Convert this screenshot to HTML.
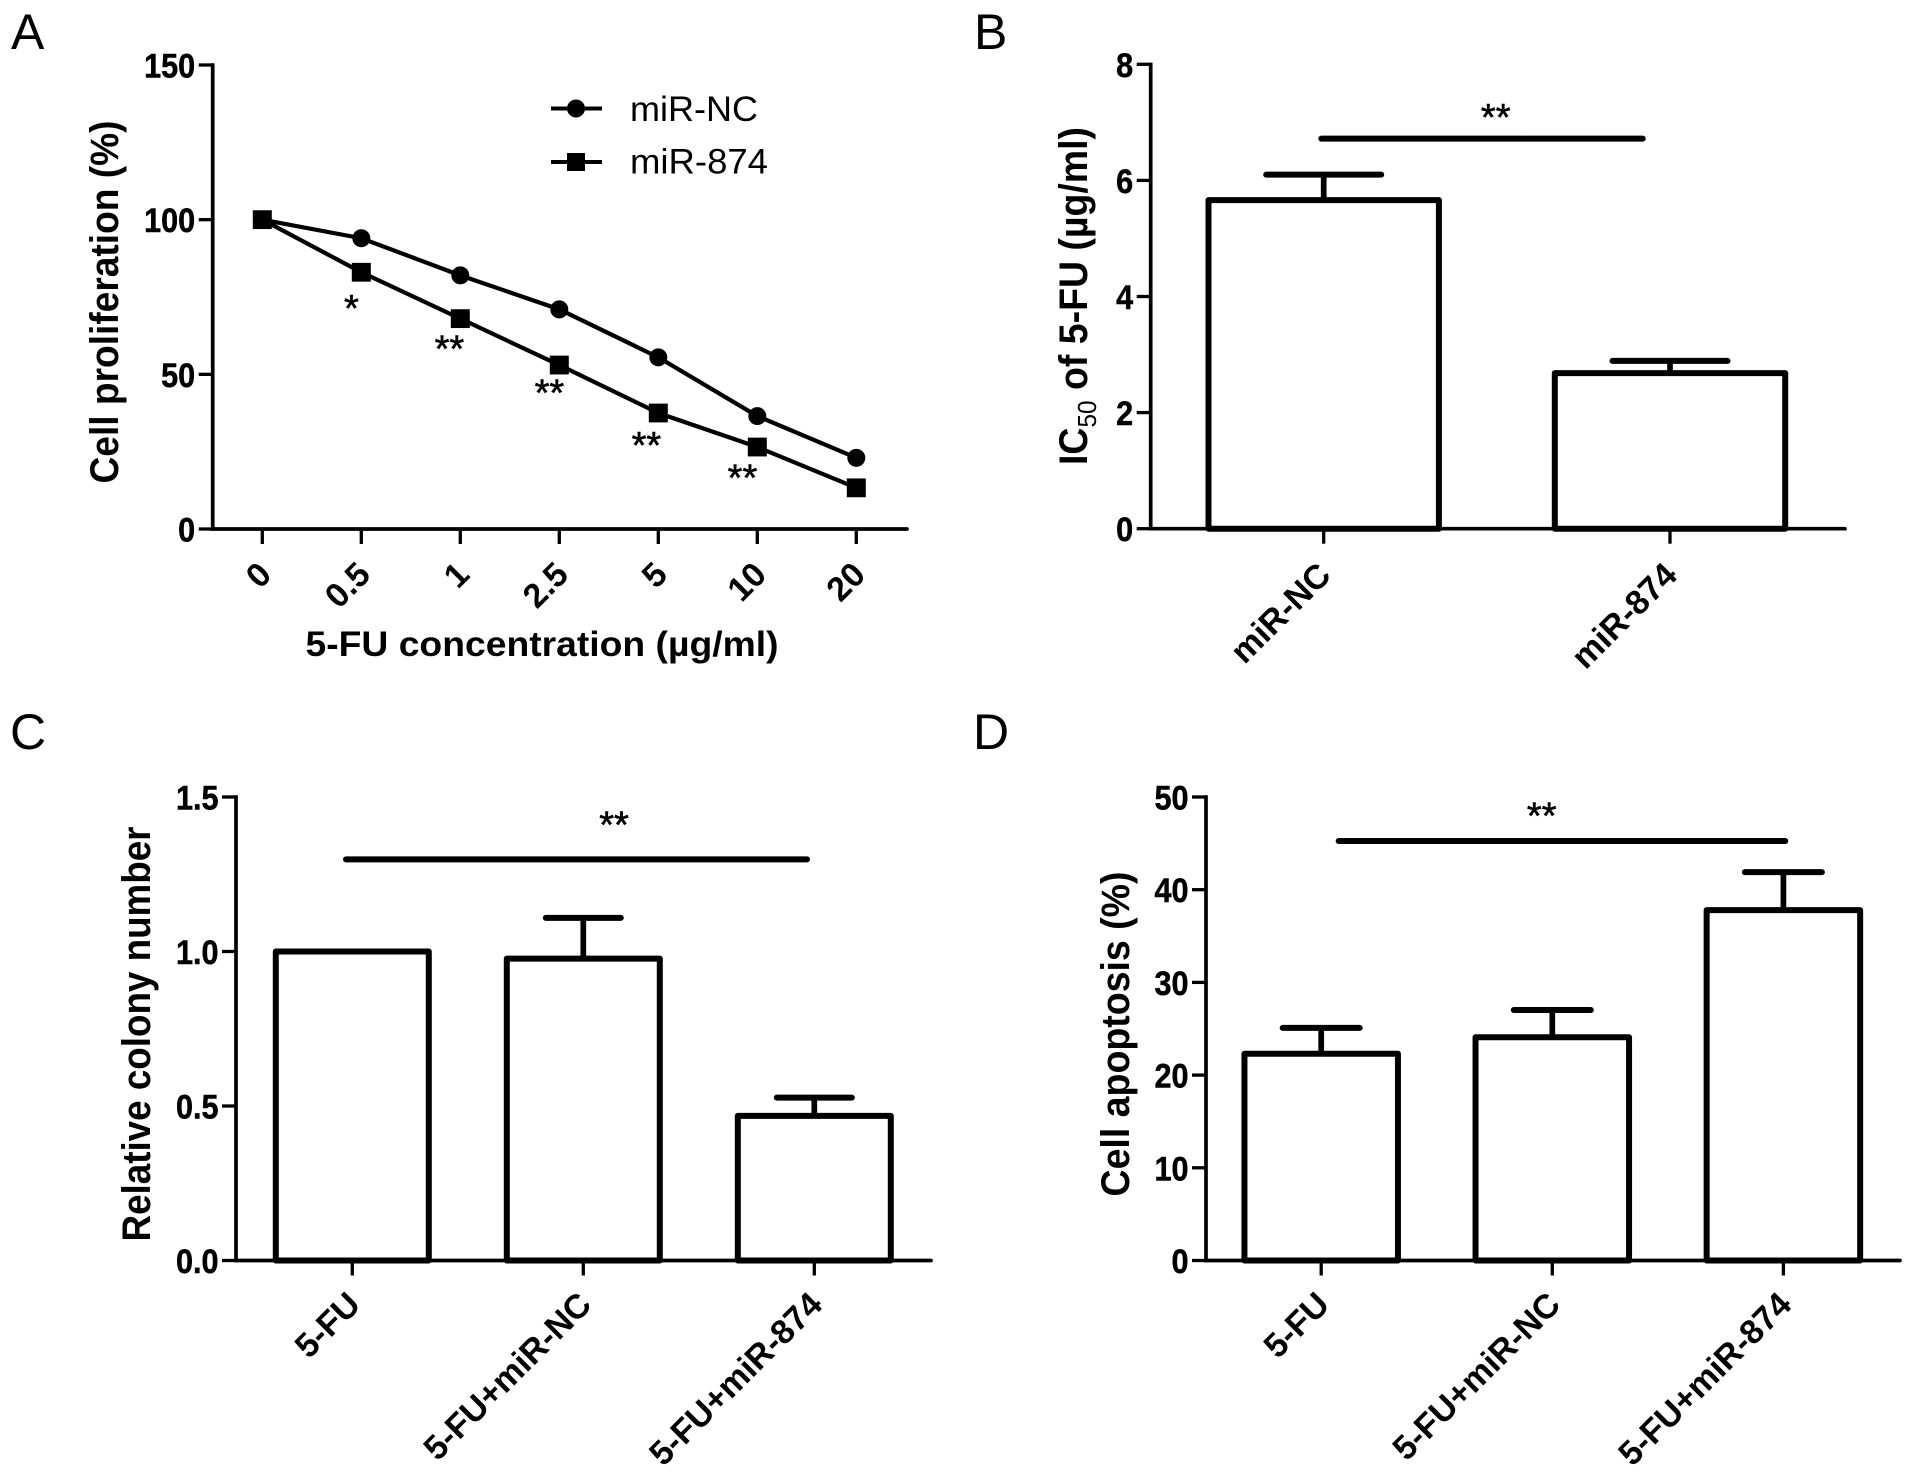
<!DOCTYPE html>
<html lang="en">
<head>
<meta charset="utf-8">
<title>miR-874 and 5-FU panels</title>
<style>
html,body{margin:0;padding:0;background:#fff;}
svg{display:block;}
text{font-family:"Liberation Sans",sans-serif;fill:#000;}
.b{font-weight:bold;}
</style>
</head>
<body>
<svg id="fig" xmlns="http://www.w3.org/2000/svg" width="1913" height="1480" viewBox="0 0 1913 1480">
  <rect x="0" y="0" width="1913" height="1480" fill="#fff"/>
  <text x="11" y="49" font-size="50">A</text>
  <text x="974" y="49" font-size="50">B</text>
  <text x="10" y="749" font-size="50">C</text>
  <text x="973" y="749" font-size="50">D</text>

  <text class="b" transform="translate(118,302) rotate(-90)" text-anchor="middle" font-size="40" textLength="363" lengthAdjust="spacingAndGlyphs">Cell proliferation (%)</text>
  <text class="b" x="542" y="656" text-anchor="middle" font-size="35" textLength="473" lengthAdjust="spacingAndGlyphs">5-FU concentration (µg/ml)</text>
  <text class="b" transform="translate(1087,296) rotate(-90)" text-anchor="middle" font-size="40" textLength="338" lengthAdjust="spacingAndGlyphs">IC<tspan font-weight="normal" font-size="26" dy="9">50</tspan><tspan dy="-9"> of 5-FU (µg/ml)</tspan></text>
  <text class="b" transform="translate(150,1034) rotate(-90)" text-anchor="middle" font-size="40" textLength="415" lengthAdjust="spacingAndGlyphs">Relative colony number</text>
  <text class="b" transform="translate(1129,1034) rotate(-90)" text-anchor="middle" font-size="40" textLength="325" lengthAdjust="spacingAndGlyphs">Cell apoptosis (%)</text>

  <g>
    <line x1="551" y1="108.5" x2="602" y2="108.5" stroke="#000" stroke-width="4"/>
    <circle cx="576" cy="108.5" r="9" fill="#000"/>
    <text x="630" y="121" font-size="35" textLength="128" lengthAdjust="spacingAndGlyphs">miR-NC</text>
    <line x1="551" y1="162" x2="602" y2="162" stroke="#000" stroke-width="4"/>
    <rect x="567" y="153" width="18" height="18" fill="#000"/>
    <text x="630" y="173.5" font-size="35" textLength="138" lengthAdjust="spacingAndGlyphs">miR-874</text>
  </g>
</svg>
<script>
// Panel A data
const aCategories = ['0', '0.5', '1', '2.5', '5', '10', '20'];
const aMirNc = [100, 94, 82, 71, 55.5, 36.5, 23];
const aMir874 = [100, 83, 68, 53, 37.5, 26.5, 13.3];
const aYTicks = ['0', '50', '100', '150'];
const aSigLabels = ['*', '**', '**', '**', '**'];
const aSigCategoryPos = [0.9, 1.89, 2.9, 3.88, 4.85];
const aSigLevels = [72.8, 59.6, 45.4, 28.4, 17.9];

// Panel B data
const bCategories = ['miR-NC', 'miR-874'];
const bMeans = [5.66, 2.68];
const bErrors = [0.44, 0.21];
const bYTicks = ['0', '2', '4', '6', '8'];
const bSigLevel = [6.72];

// Panel C data
const cCategories = ['5-FU', '5-FU+miR-NC', '5-FU+miR-874'];
const cMeans = [1.0, 0.977, 0.468];
const cErrors = [0, 0.132, 0.059];
const cYTicks = ['0.0', '0.5', '1.0', '1.5'];
const cSigLevel = [1.298];

// Panel D data
const dCategories = ['5-FU', '5-FU+miR-NC', '5-FU+miR-874'];
const dMeans = [22.3, 24.08, 37.8];
const dErrors = [2.8, 2.94, 4.1];
const dYTicks = ['0', '10', '20', '30', '40', '50'];
const dSigLevel = [45.25];

const svg = document.getElementById('fig');
const NS = 'http://www.w3.org/2000/svg';

function mk(tag, attrs, name, parent) {
  const el = document.createElementNS(NS, tag);
  for (const k in attrs) el.setAttribute(k, attrs[k]);
  
  
  (parent || svg).appendChild(el);
  return el;
}

function axes(p, yTicks, maxV) {
  const g = mk('g', {}, p.id + '-axes');
  const y = v => p.y0 - (v / maxV) * (p.y0 - p.yTop);
  mk('line', {x1: p.x0, y1: p.yTop - 1.7, x2: p.x0, y2: p.y0 + 1.8, stroke: '#000', 'stroke-width': 3.7}, p.id + '-y-axis', g);
  mk('line', {x1: p.x0, y1: p.y0, x2: p.xEnd, y2: p.y0, stroke: '#000', 'stroke-width': 3.7, 'stroke-linecap': 'round'}, p.id + '-x-axis', g);
  yTicks.forEach(t => {
    const v = parseFloat(t);
    mk('line', {x1: p.x0 - 14, y1: y(v), x2: p.x0, y2: y(v), stroke: '#000', 'stroke-width': 3.3}, p.id + '-y-tick', g);
    const lab = mk('text', {
      transform: 'translate(' + (p.x0 - 17.5) + ',' + (y(v) + 12.5) + ') scale(0.9,1)',
      'text-anchor': 'end', 'font-size': 34, 'font-weight': 'bold', stroke: '#000', 'stroke-width': 0.5
    }, p.id + '-y-tick-label', g);
    lab.textContent = t;
  });
  return y;
}

function xTick(p, x, label, size, ax, ay) {
  mk('line', {x1: x, y1: p.y0, x2: x, y2: p.y0 + 15, stroke: '#000', 'stroke-width': 3.3}, p.id + '-x-tick', svg);
  const lab = mk('text', {
    transform: 'translate(' + (x + ax) + ',' + ay + ') rotate(-45)',
    'text-anchor': 'end', 'font-size': size, 'font-weight': 'bold'
  }, p.id + '-x-tick-label', svg);
  lab.textContent = label;
}

function barPanel(p, cats, means, errs, yTicks, maxV, sig) {
  const y = axes(p, yTicks, maxV);
  cats.forEach((c, i) => {
    const cx = p.first + p.step * i;
    const hw = p.barW / 2;
    const top = y(means[i]);
    if (errs[i] > 0) {
      const et = y(means[i] + errs[i]);
      mk('line', {x1: cx, y1: et, x2: cx, y2: top, stroke: '#000', 'stroke-width': 5.7}, p.id + '-error-stem', svg);
      mk('line', {x1: cx - p.capW / 2, y1: et, x2: cx + p.capW / 2, y2: et, stroke: '#000', 'stroke-width': 6, 'stroke-linecap': 'round'}, p.id + '-error-cap', svg);
    }
    mk('rect', {x: cx - hw, y: top, width: p.barW, height: p.y0 - top, fill: '#fff', stroke: '#000', 'stroke-width': 6, 'stroke-linejoin': 'round'}, p.id + '-bar', svg);
    xTick(p, cx, c, 34, p.labelDx, p.labelY);
  });
  const sy = y(sig[0]);
  mk('line', {x1: p.sigA, y1: sy, x2: p.sigB, y2: sy, stroke: '#000', 'stroke-width': 6, 'stroke-linecap': 'round'}, p.id + '-significance-line', svg);
  const st = mk('text', {x: p.starX, y: sy + p.starDy, 'text-anchor': 'middle', 'font-size': 38, stroke: '#000', 'stroke-width': 0.6}, p.id + '-significance-stars', svg);
  st.textContent = '**';
}

// Panel A
const pA = {id: 'panel-a', x0: 212.7, y0: 529, yTop: 65, xEnd: 907};
const aY = axes(pA, aYTicks, 150);
const aX = i => 262.3 + 99 * i;
function series(values, name) {
  const pts = values.map((v, i) => aX(i) + ',' + aY(v)).join(' ');
  mk('polyline', {points: pts, fill: 'none', stroke: '#000', 'stroke-width': 4.2}, name + '-line', svg);
}
series(aMirNc, 'mir-nc');
aMirNc.forEach((v, i) => {
  mk('circle', {cx: aX(i), cy: aY(v), r: 9, fill: '#000'}, 'mir-nc-point', svg);
});
series(aMir874, 'mir-874');
aMir874.forEach((v, i) => {
  mk('rect', {x: aX(i) - 9.5, y: aY(v) - 9.4, width: 19, height: 18.8, fill: '#000'}, 'mir-874-point', svg);
});
aCategories.forEach((c, i) => {
  xTick(pA, aX(i), c, 34, 11, 576.5);
});
aSigLabels.forEach((s, i) => {
  const t = mk('text', {x: aX(aSigCategoryPos[i]), y: aY(aSigLevels[i]) + 17, 'text-anchor': 'middle', 'font-size': 38, stroke: '#000', 'stroke-width': 0.6}, 'panel-a-significance-stars', svg);
  t.textContent = s;
});

// Panel B
barPanel({id: 'panel-b', x0: 1150.7, y0: 528.7, yTop: 64.3, xEnd: 1845, first: 1323.7, step: 346.3, barW: 230.4, capW: 115,
  labelDx: 9, labelY: 577, sigA: 1321.3, sigB: 1642.7, starX: 1495.7, starDy: -8.7}, bCategories, bMeans, bErrors, bYTicks, 8, bSigLevel);

// Panel C
barPanel({id: 'panel-c', x0: 236, y0: 1260.5, yTop: 797, xEnd: 931, first: 352.3, step: 231, barW: 153, capW: 75,
  labelDx: 10, labelY: 1306.5, sigA: 346, sigB: 807, starX: 614, starDy: -21.8}, cCategories, cMeans, cErrors, cYTicks, 1.5, cSigLevel);

// Panel D
barPanel({id: 'panel-d', x0: 1206, y0: 1260.5, yTop: 797, xEnd: 1900, first: 1321.2, step: 231.1, barW: 153.5, capW: 77,
  labelDx: 10, labelY: 1306.5, sigA: 1338.7, sigB: 1785.3, starX: 1541.7, starDy: -12.3}, dCategories, dMeans, dErrors, dYTicks, 50, dSigLevel);
</script>
</body>
</html>
